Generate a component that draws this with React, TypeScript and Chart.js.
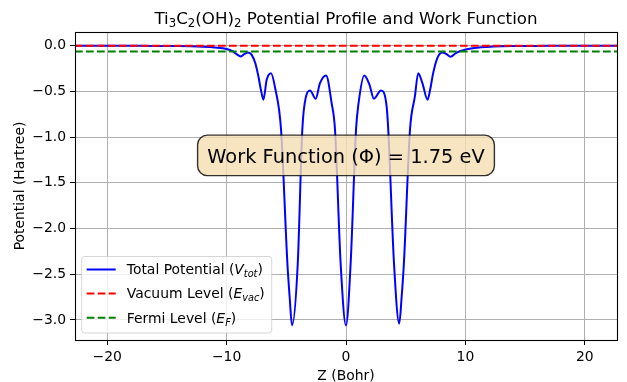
import React, { useEffect, useRef } from 'react';
import { Chart, registerables } from 'chart.js';

Chart.register(...registerables);

// ---- Data ----
const zValues = [
  -22.7, -20, -18, -16, -14, -13, -12, -11, -10, -9.5, -9.2, -8.8, -8.5, -8.2, -7.9, -7.6, -7.34, -7.1,
  -6.92, -6.64, -6.28, -5.94, -5.44, -4.91, -4.72, -4.52, -4.04, -3.66, -3.35, -3.01, -2.54, -2.18,
  -1.67, -1.2, -0.92, -0.45, 0, 0.39, 0.84, 1.05, 1.53, 1.95, 2.34, 2.93, 3.4, 3.54, 4.02, 4.46, 4.66,
  4.85, 5.36, 5.77, 6.05, 6.4, 6.83, 7.05, 7.3, 7.65, 8.06, 8.4, 8.76, 9.2, 9.96, 11, 11.8, 13, 14, 16,
  18, 20, 22.7,
];
const potentialValues = [
  0, 0, -0.001, -0.002, -0.004, -0.007, -0.012, -0.02, -0.035, -0.06, -0.09, -0.117, -0.09, -0.073,
  -0.1, -0.19, -0.335, -0.5, -0.59, -0.37, -0.3, -0.46, -0.92, -2.38, -2.75, -3.06, -2.38, -0.92,
  -0.555, -0.49, -0.58, -0.41, -0.325, -0.63, -0.92, -2.38, -3.06, -2.38, -0.92, -0.63, -0.325, -0.42,
  -0.58, -0.49, -0.66, -0.92, -2.38, -3.04, -2.75, -2.38, -0.92, -0.555, -0.3, -0.41, -0.59, -0.48,
  -0.3, -0.135, -0.073, -0.09, -0.12, -0.08, -0.044, -0.022, -0.014, -0.007, -0.004, -0.002, -0.001,
  0, 0,
];
const vacuumLevel = 0;
const fermiLevel = -0.0643;
const workFunctionText = 'Work Function (Φ) = 1.75 eV';
const annotationAt = [0, -1.2];
const xTickValues = [-20, -10, 0, 10, 20];
const yTickValues = [0, -0.5, -1, -1.5, -2, -2.5, -3];
const xRange = [-22.7, 22.7];
const yRange = [-3.22, 0.15];

const FONT = "'DejaVu Sans'";

type Seg = { t: string; it?: boolean; sub?: boolean };

function drawRich(
  ctx: CanvasRenderingContext2D,
  segs: Seg[],
  x: number,
  y: number,
  size: number,
  align: 'left' | 'center'
) {
  const fontFor = (s: Seg) => `${s.it ? 'italic ' : ''}${s.sub ? size * 0.7 : size}px ${FONT}`;
  let total = 0;
  for (const s of segs) {
    ctx.font = fontFor(s);
    total += ctx.measureText(s.t).width;
  }
  let cx = align === 'center' ? x - total / 2 : x;
  ctx.textAlign = 'left';
  ctx.textBaseline = 'alphabetic';
  for (const s of segs) {
    ctx.font = fontFor(s);
    ctx.fillText(s.t, cx, s.sub ? y + size * 0.22 : y);
    cx += ctx.measureText(s.t).width;
  }
}

function roundRect(ctx: CanvasRenderingContext2D, x: number, y: number, w: number, h: number, r: number) {
  ctx.beginPath();
  ctx.moveTo(x + r, y);
  ctx.lineTo(x + w - r, y);
  ctx.arcTo(x + w, y, x + w, y + r, r);
  ctx.lineTo(x + w, y + h - r);
  ctx.arcTo(x + w, y + h, x + w - r, y + h, r);
  ctx.lineTo(x + r, y + h);
  ctx.arcTo(x, y + h, x, y + h - r, r);
  ctx.lineTo(x, y + r);
  ctx.arcTo(x, y, x + r, y, r);
  ctx.closePath();
}

const legendItems: { color: string; dash: number[]; segs: Seg[] }[] = [
  { color: '#0000ff', dash: [], segs: [{ t: 'Total Potential (' }, { t: 'V', it: true }, { t: 'tot', it: true, sub: true }, { t: ')' }] },
  { color: '#ff0000', dash: [7.7, 3.3], segs: [{ t: 'Vacuum Level (' }, { t: 'E', it: true }, { t: 'vac', it: true, sub: true }, { t: ')' }] },
  { color: '#008000', dash: [7.7, 3.3], segs: [{ t: 'Fermi Level (' }, { t: 'E', it: true }, { t: 'F', it: true, sub: true }, { t: ')' }] },
];

const overlayPlugin = {
  id: 'overlay',
  afterDraw(chart: any) {
    const { ctx, chartArea: a, scales } = chart;
    ctx.save();

    // axes frame
    ctx.strokeStyle = '#000';
    ctx.lineWidth = 1.1;
    ctx.setLineDash([]);
    ctx.strokeRect(a.left + 0.5, a.top + 0.5, a.right - a.left, a.bottom - a.top);

    // annotation box
    const cx = scales.x.getPixelForValue(annotationAt[0]);
    const cy = scales.y.getPixelForValue(annotationAt[1]);
    const fs = 19.4;
    ctx.font = `${fs}px ${FONT}`;
    const tw = ctx.measureText(workFunctionText).width;
    const pad = fs * 0.5;
    const bw = tw + 2 * pad;
    const bh = 40.5;
    roundRect(ctx, cx - bw / 2, cy - bh / 2, bw, bh, pad);
    ctx.fillStyle = 'rgba(245,222,179,0.8)';
    ctx.fill();
    ctx.strokeStyle = 'rgba(0,0,0,0.8)';
    ctx.lineWidth = 1.4;
    ctx.stroke();
    ctx.fillStyle = '#000';
    ctx.textAlign = 'center';
    ctx.textBaseline = 'alphabetic';
    ctx.fillText(workFunctionText, cx, cy + 7.2);

    // legend
    const lx = 81.7, ly = 256.5, lw = 190, lh = 76.5;
    roundRect(ctx, lx, ly, lw, lh, 2.8);
    ctx.fillStyle = 'rgba(255,255,255,0.8)';
    ctx.fill();
    ctx.strokeStyle = 'rgba(204,204,204,0.8)';
    ctx.lineWidth = 1;
    ctx.stroke();
    const rows = [269.5, 293.5, 317.7];
    legendItems.forEach((it, i) => {
      const ry = rows[i];
      ctx.beginPath();
      ctx.setLineDash(it.dash);
      ctx.strokeStyle = it.color;
      ctx.lineWidth = 2;
      ctx.moveTo(86.7, ry);
      ctx.lineTo(115.7, ry);
      ctx.stroke();
      ctx.setLineDash([]);
      ctx.fillStyle = '#000';
      drawRich(ctx, it.segs, 126.8, ry + 4.8, 13.9, 'left');
    });

    // title
    ctx.fillStyle = '#000';
    const midX = (a.left + a.right) / 2;
    drawRich(
      ctx,
      [
        { t: 'Ti' }, { t: '3', sub: true }, { t: 'C' }, { t: '2', sub: true }, { t: '(OH)' }, { t: '2', sub: true },
        { t: ' Potential Profile and Work Function' },
      ],
      midX,
      23.5,
      16.7,
      'center'
    );

    // x label
    ctx.font = `13.9px ${FONT}`;
    ctx.textAlign = 'center';
    ctx.textBaseline = 'alphabetic';
    ctx.fillText('Z (Bohr)', midX, 379.5);

    // y label
    ctx.translate(23.5, (a.top + a.bottom) / 2);
    ctx.rotate(-Math.PI / 2);
    ctx.fillText('Potential (Hartree)', 0, 0);

    ctx.restore();
  },
};

const minus = (s: string) => s.replace('-', '\u2212');

export default function App() {
  const ref = useRef<HTMLCanvasElement>(null);
  useEffect(() => {
    if (!ref.current) return;
    const gridCommon = {
      color: '#b0b0b0',
      lineWidth: 1,
      tickLength: 5,
      tickColor: '#000',
      tickWidth: 1,
      drawTicks: true,
    };
    const chart = new Chart(ref.current, {
      type: 'line',
      data: {
        datasets: [
          {
            label: 'Total Potential',
            data: zValues.map((z, i) => ({ x: z, y: potentialValues[i] })),
            borderColor: '#0000ff',
            borderWidth: 2,
            pointRadius: 0,
            cubicInterpolationMode: 'monotone',
            fill: false,
            order: 3,
          },
          {
            label: 'Vacuum Level',
            data: [{ x: xRange[0], y: vacuumLevel }, { x: xRange[1], y: vacuumLevel }],
            borderColor: '#ff0000',
            borderWidth: 2,
            borderDash: [7.7, 3.3],
            pointRadius: 0,
            fill: false,
            order: 2,
          },
          {
            label: 'Fermi Level',
            data: [{ x: xRange[0], y: fermiLevel }, { x: xRange[1], y: fermiLevel }],
            borderColor: '#008000',
            borderWidth: 2,
            borderDash: [7.7, 3.3],
            pointRadius: 0,
            fill: false,
            order: 1,
          },
        ],
      },
      options: {
        animation: false,
        responsive: false,
        devicePixelRatio: 1,
        layout: { padding: { top: 32, right: 10, left: 0, bottom: 0 } },
        plugins: {
          legend: { display: false },
          title: { display: false },
          tooltip: { enabled: false },
        },
        scales: {
          x: {
            type: 'linear',
            min: xRange[0],
            max: xRange[1],
            afterBuildTicks: (s: any) => {
              s.ticks = xTickValues.map((v) => ({ value: v }));
            },
            afterFit: (s: any) => {
              s.height = 42;
            },
            grid: gridCommon,
            border: { display: false },
            ticks: {
              font: { family: FONT, size: 13.9 },
              color: '#000',
              padding: 4,
              maxRotation: 0,
              autoSkip: false,
              callback: (v: any) => minus(String(v)),
            },
          },
          y: {
            type: 'linear',
            min: yRange[0],
            max: yRange[1],
            afterBuildTicks: (s: any) => {
              s.ticks = yTickValues.map((v) => ({ value: v }));
            },
            afterFit: (s: any) => {
              s.width = 75;
            },
            grid: gridCommon,
            border: { display: false },
            ticks: {
              font: { family: FONT, size: 13.9 },
              color: '#000',
              padding: 4,
              autoSkip: false,
              callback: (v: any) => minus(Number(v).toFixed(1)),
            },
          },
        },
      },
      plugins: [overlayPlugin],
    } as any);
    return () => chart.destroy();
  }, []);
  return (
    <div style={{ position: 'absolute', left: 0, top: 0, width: 627, height: 382, background: '#fff' }}>
      <canvas ref={ref} width={627} height={382} style={{ display: 'block', width: 627, height: 382 }} />
    </div>
  );
}
